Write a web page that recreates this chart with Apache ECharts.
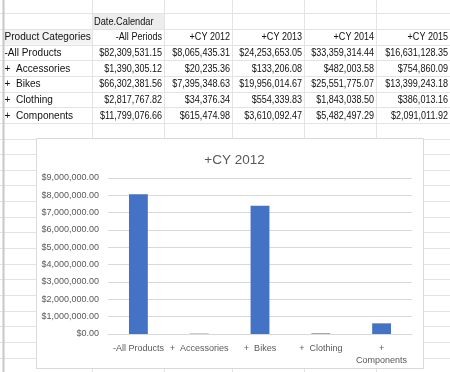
<!DOCTYPE html>
<html>
<head>
<meta charset="utf-8">
<script src="https://cdn.jsdelivr.net/npm/echarts@6/dist/echarts.min.js"></script>
<style>
html,body{margin:0;padding:0;background:#fff;}
#c{width:450px;height:372px;}
</style>
</head>
<body>
<div id="c"></div>
<script>
// ---- data ----
var categories = ['-All Products', '+  Accessories', '+  Bikes', '+  Clothing', '+  Components'];
var periods = ['-All Periods', '+CY 2012', '+CY 2013', '+CY 2014', '+CY 2015'];
var allPeriods = [82309531.15, 1390305.12, 66302381.56, 2817767.82, 11799076.66];
var cy2012 = [8065435.31, 20235.36, 7395348.63, 34376.34, 615474.98];
var cy2013 = [24253653.05, 133206.08, 19956014.67, 554339.83, 3610092.47];
var cy2014 = [33359314.44, 482003.58, 25551775.07, 1843038.50, 5482497.29];
var cy2015 = [16631128.35, 754860.09, 13399243.18, 386013.16, 2091011.92];
var chartTitle = '+CY 2012';
var yTicks = [0, 1000000, 2000000, 3000000, 4000000, 5000000, 6000000, 7000000, 8000000, 9000000];
var rowHeader = 'Product Categories';
var colHeader = 'Date.Calendar';

var FONT = "'Liberation Sans', Arial, sans-serif";
function money(v) {
  return '$' + v.toLocaleString('en-US', {minimumFractionDigits: 2, maximumFractionDigits: 2});
}

// ---- spreadsheet layout ----
var colX = [2.5, 92, 164, 232, 304, 376, 450];
var row0 = 13.3, rowH = 15.65;
var g = [];
// fills
g.push({type: 'rect', z: -20, shape: {x: colX[1], y: row0, width: colX[2] - colX[1], height: rowH}, style: {fill: '#ededed'}});
g.push({type: 'rect', z: -20, shape: {x: colX[0], y: row0 + rowH, width: colX[1] - colX[0], height: rowH}, style: {fill: '#f3f3f3'}});
// horizontal lines
for (var k = -1; k < 24; k++) {
  var y = Math.round(row0 + k * rowH) + 0.5;
  g.push({type: 'line', z: -19, shape: {x1: 0, y1: y, x2: 450, y2: y}, style: {stroke: '#e3e3e3', lineWidth: 1}});
}
for (var c = 0; c < colX.length; c++) {
  var x = Math.round(colX[c]) + 0.5;
  g.push({type: 'line', z: -19, shape: {x1: x, y1: 0, x2: x, y2: 372}, style: {stroke: c === 0 ? '#c8c8c8' : '#e3e3e3', lineWidth: c === 0 ? 2 : 1}});
}
function cellText(txt, col, row, align, sx) {
  var cy = row0 + row * rowH + rowH / 2 + 0.8;
  var x = align === 'right' ? colX[col + 1] - 2 : colX[col] + 2;
  g.push({type: 'text', z: -18, x: x, y: cy, scaleX: sx,
    style: {text: txt, font: '10.5px ' + FONT, fill: '#111111', textAlign: align, textVerticalAlign: 'middle'}});
}
cellText(colHeader, 1, 0, 'left', 0.88);
cellText(rowHeader, 0, 1, 'left', 0.96);
for (var p = 0; p < periods.length; p++) cellText(periods[p], p + 1, 1, 'right', 0.86);
var cols = [allPeriods, cy2012, cy2013, cy2014, cy2015];
for (var r = 0; r < categories.length; r++) {
  cellText(categories[r], 0, r + 2, 'left', 0.96);
  for (var q = 0; q < cols.length; q++) cellText(money(cols[q][r]), q + 1, r + 2, 'right', 0.86);
}
// chart box
g.push({type: 'rect', z: -17, shape: {x: 36.5, y: 138.5, width: 387, height: 230}, style: {fill: '#ffffff', stroke: '#d9d9d9', lineWidth: 1}});

var chart = echarts.init(document.getElementById('c'), null, {renderer: 'canvas'});
chart.setOption({
  animation: false,
  textStyle: {fontFamily: FONT},
  title: {text: chartTitle, left: 229.5, top: 148, textAlign: 'center',
    textStyle: {fontFamily: FONT, fontSize: 13.5, fontWeight: 'normal', color: '#595959'}},
  graphic: g,
  grid: {left: 108, right: 38, top: 178, bottom: 38, containLabel: false},
  xAxis: {
    type: 'category', data: categories,
    axisLine: {lineStyle: {color: '#d9d9d9'}},
    axisTick: {show: false},
    axisLabel: {color: '#595959', fontSize: 9, fontFamily: FONT, margin: 9, interval: 0, lineHeight: 12,
      formatter: function (v) { return v.indexOf('Components') >= 0 ? '+\n' + v.replace(/^\+\s+/, '') : v; }}
  },
  yAxis: {
    type: 'value', min: yTicks[0], max: yTicks[yTicks.length - 1], interval: yTicks[1] - yTicks[0],
    axisLine: {show: false}, axisTick: {show: false},
    splitLine: {lineStyle: {color: '#d9d9d9'}},
    axisLabel: {color: '#595959', fontSize: 9, fontFamily: FONT, margin: 9, formatter: function (v) { return money(v); }}
  },
  series: [{
    type: 'bar', data: cy2012, barWidth: '31%',
    itemStyle: {color: '#4472c4'}
  }]
});
</script>
</body>
</html>
